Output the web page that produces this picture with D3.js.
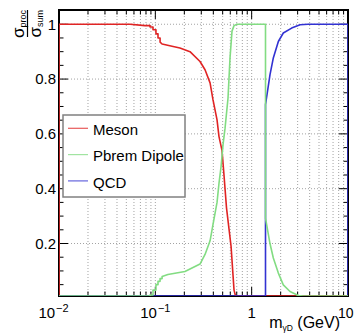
<!DOCTYPE html>
<html><head><meta charset="utf-8">
<script src="https://cdn.jsdelivr.net/npm/d3@7"></script>
<style>
body{margin:0;background:#fff}
svg{display:block;font-family:"Liberation Sans",Arial,Helvetica,sans-serif}
</style>
</head><body>
<svg id="c" width="354" height="333"></svg>
<script>
// ---------------- data ----------------
const seriesNames = ["Meson", "Pbrem Dipole", "QCD"];
const seriesColors = ["#e02424", "#82dc82", "#3232d2"];

const mesonX = [0.01, 0.0546, 0.0782, 0.0881, 0.0881, 0.0946, 0.0946, 0.1015, 0.1015, 0.1066, 0.1066, 0.112, 0.112, 0.1176,
                0.149, 0.180, 0.229, 0.291, 0.328, 0.370, 0.397, 0.437, 0.458, 0.492, 0.516, 0.548, 0.611, 0.656, 0.680, 10];
const mesonY = [1, 1, 0.995, 0.995, 0.99, 0.99, 0.98, 0.98, 0.965, 0.965, 0.95, 0.95, 0.935, 0.928,
                0.92, 0.913, 0.90, 0.864, 0.834, 0.786, 0.724, 0.651, 0.59, 0.54, 0.45, 0.33, 0.19, 0.03, 0, 0];

const pbremX = [0.01, 0.0881, 0.0881, 0.0946, 0.0946, 0.1015, 0.1015, 0.1066, 0.1066, 0.112, 0.112, 0.1176, 0.1176,
                0.135, 0.203, 0.291, 0.328, 0.370, 0.397, 0.437, 0.458, 0.481, 0.504, 0.529, 0.568, 0.596, 0.625, 0.656, 0.704,
                1.392, 1.392, 1.549, 1.678, 1.892, 2.13, 2.50, 3.05, 3.41, 10];
const pbremY = [0, 0, 0.012, 0.012, 0.03, 0.03, 0.05, 0.05, 0.062, 0.062, 0.072, 0.072, 0.08,
                0.087, 0.098, 0.125, 0.16, 0.21, 0.27, 0.35, 0.42, 0.48, 0.56, 0.62, 0.73, 0.877, 0.975, 0.995, 1,
                1, 0.293, 0.2, 0.147, 0.092, 0.049, 0.025, 0.01, 0, 0];

const qcdX = [0.01, 1.392, 1.392, 1.549, 1.678, 1.892, 2.13, 2.60, 3.18, 3.85, 10];
const qcdY = [0, 0, 0.707, 0.815, 0.877, 0.937, 0.968, 0.986, 0.998, 1, 1];

const xMajorTicks = [0.01, 0.1, 1, 10];
const xTickBase = ["10", "10", "1", "10"];
const xTickExp = ["-2", "-1", "", ""];
const yMajorTicks = [0.2, 0.4, 0.6, 0.8, 1.0];
const yTickLabels = ["0.2", "0.4", "0.6", "0.8", "1"];

// ---------------- layout ----------------
const L = 59, T = 10, R = 348, B = 296;
const svg = d3.select("#c");
const x = d3.scaleLog().domain([0.01, 10]).range([L, R]);
const y = d3.scaleLinear().domain([0.0085, 1.052]).range([B, T]).clamp(true);

// minor ticks
const xMinor = [];
[0.01, 0.1, 1].forEach(d => { for (let k = 2; k <= 9; k++) xMinor.push(d * k); });
const yMinor = d3.range(1, 21).map(i => +(i * 0.05).toFixed(2)).filter(v => !yMajorTicks.some(m => Math.abs(m - v) < 1e-9));

// grid
const grid = svg.append("g").attr("stroke", "#999").attr("stroke-width", 0.9).attr("stroke-dasharray", "1,2");
xMinor.concat(xMajorTicks.slice(1, 3)).forEach(v => {
  grid.append("line").attr("x1", x(v)).attr("x2", x(v)).attr("y1", T).attr("y2", B);
});
yMajorTicks.forEach(v => {
  grid.append("line").attr("x1", L).attr("x2", R).attr("y1", y(v)).attr("y2", y(v));
});

// ticks (inside, all four sides)
const tk = svg.append("g").attr("stroke", "#000").attr("stroke-width", 1);
const majL = 9, minL = 4.5;
xMajorTicks.forEach(v => {
  tk.append("line").attr("x1", x(v)).attr("x2", x(v)).attr("y1", B).attr("y2", B - majL);
  tk.append("line").attr("x1", x(v)).attr("x2", x(v)).attr("y1", T).attr("y2", T + majL);
});
xMinor.forEach(v => {
  tk.append("line").attr("x1", x(v)).attr("x2", x(v)).attr("y1", B).attr("y2", B - minL);
  tk.append("line").attr("x1", x(v)).attr("x2", x(v)).attr("y1", T).attr("y2", T + minL);
});
yMajorTicks.forEach(v => {
  tk.append("line").attr("x1", L).attr("x2", L + majL).attr("y1", y(v)).attr("y2", y(v));
  tk.append("line").attr("x1", R).attr("x2", R - majL).attr("y1", y(v)).attr("y2", y(v));
});
yMinor.forEach(v => {
  if (y(v) <= T + 1) return;
  tk.append("line").attr("x1", L).attr("x2", L + minL).attr("y1", y(v)).attr("y2", y(v));
  tk.append("line").attr("x1", R).attr("x2", R - minL).attr("y1", y(v)).attr("y2", y(v));
});

// frame
svg.append("rect").attr("x", L).attr("y", T).attr("width", R - L).attr("height", B - T)
  .attr("fill", "none").attr("stroke", "#000").attr("stroke-width", 2);

// series
svg.append("clipPath").attr("id", "clip").append("rect")
  .attr("x", L).attr("y", T).attr("width", R - L).attr("height", B - T);
const line = d3.line().x(d => x(d[0])).y(d => y(d[1]));
const series = [
  {xs: mesonX, ys: mesonY, c: seriesColors[0]},
  {xs: qcdX, ys: qcdY, c: seriesColors[2]},
  {xs: pbremX, ys: pbremY, c: seriesColors[1]}
];
series.forEach(s => {
  const pts = [[0.01, 0]].concat(s.xs.map((v, i) => [v, s.ys[i]])).concat([[10, 0]]);
  svg.append("path").attr("clip-path", "url(#clip)").attr("d", line(pts))
    .attr("fill", "none").attr("stroke", s.c).attr("stroke-width", 1.6).attr("stroke-linejoin", "round");
});

// y tick labels
yMajorTicks.forEach((v, i) => {
  svg.append("text").attr("x", 56).attr("y", y(v)).attr("dy", "0.36em").attr("text-anchor", "end")
    .attr("font-size", 15).attr("fill", "#000").text(yTickLabels[i]);
});

// x tick labels
xMajorTicks.forEach((v, i) => {
  let px = x(v);
  let anchor = "middle";
  let fs = 15;
  if (i === 0) px -= 5.5;
  if (i === xMajorTicks.length - 1) { anchor = "end"; px = 353.5; fs = 14; }
  const t = svg.append("text").attr("x", px).attr("y", 318).attr("text-anchor", anchor)
    .attr("font-size", fs).attr("fill", "#000");
  t.append("tspan").text(xTickBase[i]);
  if (xTickExp[i]) t.append("tspan").attr("dy", -6.5).attr("dx", 1).attr("font-size", 11).text(xTickExp[i].replace("-", "\u2212"));
});

// x axis title
const xt = svg.append("text").attr("x", 340).attr("y", 328).attr("text-anchor", "end").attr("font-size", 16).attr("fill", "#000");
xt.append("tspan").text("m");
xt.append("tspan").attr("dy", 2.5).attr("font-size", 8.5).text("\u03b3D");
xt.append("tspan").attr("dy", -2.5).text(" (GeV)");

// y axis title (fraction, rotated)
const num = svg.append("text").attr("transform", "translate(24,10) rotate(-90)").attr("text-anchor", "end")
  .attr("font-size", 17).attr("fill", "#000");
num.append("tspan").text("\u03c3");
num.append("tspan").attr("dy", 2).attr("font-size", 9).text("proc");
const den = svg.append("text").attr("transform", "translate(41,10) rotate(-90)").attr("text-anchor", "end")
  .attr("font-size", 17).attr("fill", "#000");
den.append("tspan").text("\u03c3");
den.append("tspan").attr("dy", 2).attr("font-size", 9).text("sum");
svg.append("line").attr("x1", 27.5).attr("x2", 27.5).attr("y1", 10).attr("y2", 37)
  .attr("stroke", "#000").attr("stroke-width", 1.2);

// legend
const lg = svg.append("g");
lg.append("rect").attr("x", 63).attr("y", 115).attr("width", 122).attr("height", 82)
  .attr("fill", "#fff").attr("stroke", "#808080").attr("stroke-width", 1.5);
seriesNames.forEach((n, i) => {
  const yy = 128.3 + i * 26.3;
  lg.append("line").attr("x1", 68).attr("x2", 88).attr("y1", yy).attr("y2", yy)
    .attr("stroke", seriesColors[i]).attr("stroke-width", 1.2).attr("opacity", 0.75);
  lg.append("text").attr("x", 93).attr("y", yy + 6.6).attr("font-size", 15).attr("fill", "#000").text(n);
});
</script>
</body></html>
